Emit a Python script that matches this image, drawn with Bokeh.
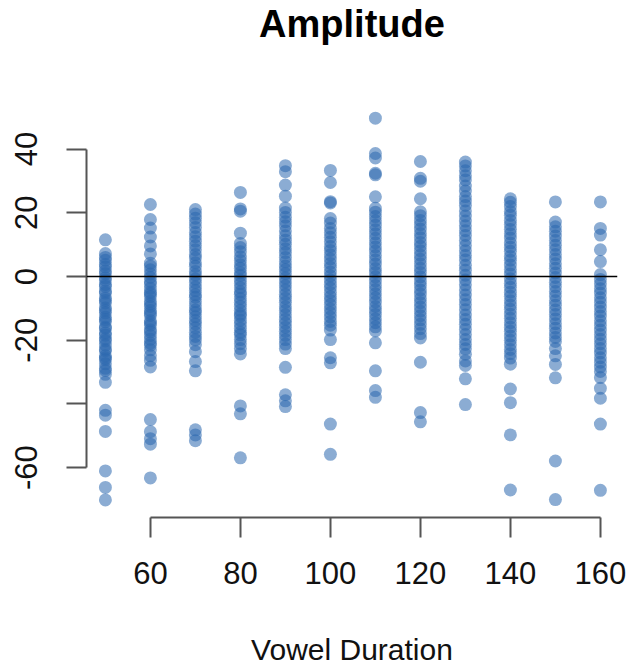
from bokeh.plotting import figure
from bokeh.models import Range1d, Span, FixedTicker
from bokeh.embed import file_html
from bokeh.resources import INLINE

# Vowel duration categories (x)
durations = [50, 60, 70, 80, 90, 100, 110, 120, 130, 140, 150, 160]

# Amplitude values read per duration column
amp_50 = [11.5, 7.2, 6.0, 5.1, 3.8, 3.0, 1.7, 0.9, -0.4, -1.2, -2.5, -3.1, -4.6, -5.2, -6.8, -7.5, -8.3, -9.9,
          -10.6, -11.4, -12.8, -13.5, -14.2, -15.9, -16.3, -17.7, -18.4, -19.6, -20.2, -21.5, -22.8, -23.3,
          -24.9, -25.6, -26.1, -27.4, -28.8, -29.5, -30.7, -33.2, -42.0, -43.5, -48.6, -61.0, -66.2, -70.1]
amp_60 = [22.6, 17.9, 15.2, 12.4, 9.6, 7.1, 4.2, 3.3, 2.1, 0.8, -0.3, -1.6, -2.4, -3.7, -4.9, -5.5, -6.3, -7.8,
          -8.6, -9.4, -10.7, -11.5, -12.2, -13.9, -14.6, -15.3, -16.8, -17.4, -18.5, -19.7, -20.9, -21.6, -23.0,
          -24.8, -26.3, -28.4, -44.9, -48.7, -50.9, -52.6, -63.2]
amp_70 = [21.0, 19.6, 18.3, 16.9, 15.4, 13.8, 12.5, 11.1, 9.7, 8.4, 6.9, 5.8, 4.3, 3.2, 1.6, 0.5, -0.8, -1.9,
          -3.3, -4.4, -5.7, -6.5, -7.9, -9.2, -10.5, -11.3, -12.6, -13.8, -14.9, -16.1, -17.5, -18.8, -19.9,
          -21.4, -23.6, -26.7, -29.6, -48.1, -49.7, -51.5]
amp_80 = [26.4, 21.2, 20.5, 13.6, 10.4, 9.1, 7.8, 6.2, 5.0, 3.7, 2.6, 1.2, 0.3, -1.1, -2.2, -3.5, -4.8, -5.6,
          -6.9, -8.1, -9.3, -10.6, -11.8, -12.4, -13.7, -14.9, -16.2, -17.5, -18.3, -19.8, -21.1, -22.6, -24.3,
          -40.6, -43.1, -56.9]
amp_90 = [34.8, 32.9, 28.7, 25.2, 21.5, 20.1, 18.6, 17.2, 15.9, 14.3, 12.8, 11.4, 10.1, 8.7, 7.5, 6.0, 4.6, 3.3,
          2.2, 0.9, -0.5, -1.7, -2.9, -4.2, -5.6, -6.8, -8.1, -9.5, -10.7, -12.0, -13.4, -14.6, -15.9, -17.2,
          -18.5, -19.8, -21.2, -22.6, -28.5, -37.1, -39.0, -40.8]
amp_100 = [33.3, 29.5, 23.5, 23.1, 18.2, 16.8, 15.1, 13.7, 12.3, 10.9, 9.4, 8.2, 6.8, 5.5, 4.1, 2.9, 1.4, 0.2,
           -1.1, -2.4, -3.6, -5.0, -6.3, -7.5, -8.8, -10.2, -11.4, -12.7, -14.1, -15.3, -16.8, -19.8, -25.5,
           -27.1, -46.3, -55.8]
amp_110 = [49.7, 38.6, 37.2, 32.4, 31.9, 25.0, 21.4, 20.2, 18.8, 17.5, 16.1, 14.7, 13.4, 12.0, 10.6, 9.3, 8.0,
           6.6, 5.2, 3.9, 2.5, 1.3, -0.1, -1.4, -2.8, -4.1, -5.4, -6.7, -8.0, -9.4, -10.6, -11.9, -13.3, -14.5,
           -15.8, -17.1, -20.8, -29.6, -35.8, -37.9]
amp_120 = [36.1, 30.8, 29.9, 24.4, 20.3, 19.1, 17.6, 16.3, 14.9, 13.5, 12.2, 10.7, 9.5, 8.1, 6.7, 5.4, 4.0, 2.6,
           1.3, -0.1, -1.5, -2.8, -4.2, -5.5, -6.9, -8.2, -9.6, -10.9, -12.3, -13.6, -15.0, -16.4, -17.9, -19.3,
           -26.9, -42.7, -45.6]
amp_130 = [35.9, 34.7, 33.2, 31.6, 30.3, 28.4, 26.8, 25.1, 23.7, 22.3, 20.6, 19.0, 17.4, 15.9, 14.4, 12.9, 11.3,
           9.7, 8.1, 6.6, 5.2, 3.5, 2.0, 0.4, -1.1, -2.6, -4.2, -5.8, -7.3, -8.8, -10.4, -12.1, -13.5, -15.0,
           -16.6, -18.2, -19.8, -21.3, -22.7, -24.4, -26.5, -27.9, -32.1, -40.2]
amp_140 = [24.4, 23.3, 22.0, 20.4, 19.2, 17.6, 16.3, 14.8, 13.4, 12.1, 10.5, 9.2, 7.9, 6.3, 5.1, 3.6, 2.2, 0.8,
           -0.7, -2.1, -3.4, -4.9, -6.2, -7.6, -9.0, -10.3, -11.8, -13.1, -14.5, -15.9, -17.2, -18.7, -20.0,
           -21.4, -22.9, -24.2, -25.6, -27.5, -35.3, -39.6, -49.7, -67.0]
amp_150 = [23.4, 17.1, 15.6, 14.2, 12.7, 11.3, 9.8, 8.4, 6.9, 5.5, 4.0, 2.6, 1.1, -0.3, -1.8, -3.2, -4.7, -6.1,
           -7.6, -9.0, -10.5, -11.9, -13.3, -14.8, -16.2, -17.7, -19.1, -20.4, -22.6, -24.9, -27.6, -31.8,
           -57.9, -70.0]
amp_160 = [23.4, 15.1, 13.0, 8.4, 4.7, 0.6, -0.9, -2.3, -3.8, -5.2, -6.7, -8.1, -9.6, -11.0, -12.4, -13.9,
           -15.3, -16.8, -18.2, -19.7, -21.1, -22.6, -24.0, -25.5, -26.9, -28.4, -29.8, -31.7, -35.1, -38.2,
           -46.3, -67.1]

x_ticks = [60, 80, 100, 120, 140, 160]
y_ticks = [-60, -40, -20, 0, 20, 40]
y_tick_labels = {-60: "-60", -40: " ", -20: "-20", 0: "0", 20: "20", 40: "40"}

columns = [amp_50, amp_60, amp_70, amp_80, amp_90, amp_100, amp_110, amp_120, amp_130, amp_140, amp_150, amp_160]
xs, ys = [], []
for d, vals in zip(durations, columns):
    xs.extend([d] * len(vals))
    ys.extend(vals)

FONT = "Liberation Sans"

p = figure(width=635, height=668, output_backend="svg", toolbar_location=None,
           x_range=Range1d(45.8, 163.8), y_range=Range1d(-75.625, 72.8125),
           min_border_left=86, min_border_right=18, min_border_top=42, min_border_bottom=151)
p.outline_line_color = None
p.xgrid.visible = False
p.ygrid.visible = False
p.background_fill_color = "white"

p.title.text = "Amplitude"
p.title.text_font = FONT
p.title.text_font_size = "38px"
p.title.text_font_style = "bold"
p.title.text_color = "black"
p.title.align = "center"
p.title.standoff = 0

p.scatter(xs, ys, size=13, fill_color="#2b68ae", fill_alpha=0.55, line_color=None)

p.add_layout(Span(location=0, dimension="width", line_color="black", line_width=1.5))

xaxis = p.xaxis[0]
yaxis = p.yaxis[0]
xaxis.ticker = FixedTicker(ticks=x_ticks)
xaxis.bounds = (60, 160)
xaxis.axis_label = "Vowel Duration"
yaxis.ticker = FixedTicker(ticks=y_ticks)
yaxis.bounds = (-60, 40)
yaxis.major_label_overrides = y_tick_labels
yaxis.major_label_orientation = "vertical"
for ax in (xaxis, yaxis):
    ax.axis_line_color = "#555555"
    ax.axis_line_width = 2
    ax.major_tick_line_color = "#555555"
    ax.major_tick_line_width = 2
    ax.major_tick_out = 20
    ax.major_tick_in = 0
    ax.minor_tick_line_color = None
    ax.major_label_text_font = FONT
    ax.major_label_text_font_size = "31px"
    ax.major_label_text_color = "#111111"
xaxis.major_label_standoff = 24
yaxis.major_label_standoff = 22
xaxis.axis_label_text_font = FONT
xaxis.axis_label_text_font_size = "30px"
xaxis.axis_label_text_font_style = "normal"
xaxis.axis_label_text_color = "#111111"
xaxis.axis_label_standoff = 46

open("out.html", "w").write(file_html(p, INLINE))
